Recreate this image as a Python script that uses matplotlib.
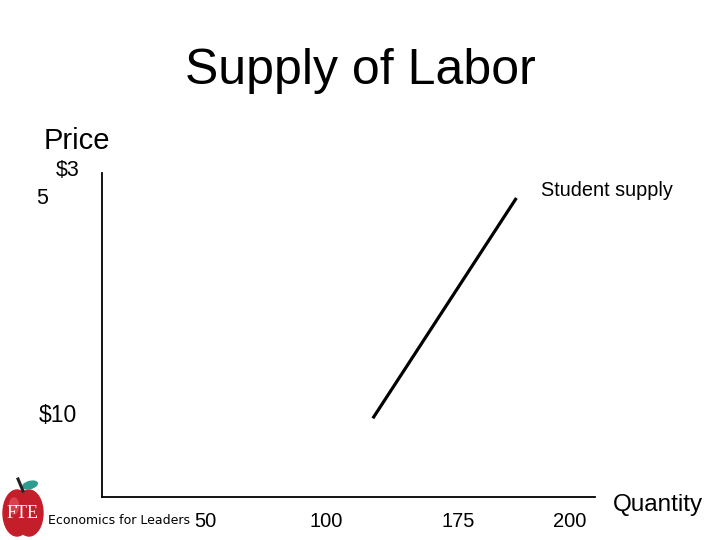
import matplotlib
matplotlib.use("Agg")
import matplotlib.pyplot as plt
from matplotlib.patches import Ellipse

plt.rcParams['font.family'] = ['Liberation Sans', 'DejaVu Sans']

# data
supply_qty = [119, 178]
supply_price = [9.4, 34.1]
tick_labels = ['50', '100', '175', '200']
tick_pos = [50, 100, 154, 200]
price_labels = ['$10']
price_ticks = [10]

W, H = 720, 540
fig = plt.figure(figsize=(7.2, 5.4), dpi=100)


def px(x, y):
    return x / W, 1 - y / H


# main axes: origin at (102, 497), top at 173, right end at 595
ax = fig.add_axes([102 / W, 1 - 497 / H, (595 - 102) / W, (497 - 173) / H])
ax.plot(supply_qty, supply_price, color='black', linewidth=2.3, solid_capstyle='butt')
ax.set_xlim(7.7, 210.3)
ax.set_ylim(0.58, 36.9)
for s in ['top', 'right']:
    ax.spines[s].set_visible(False)
ax.spines['left'].set_linewidth(1.3)
ax.spines['bottom'].set_linewidth(1.3)
ax.set_xticks(tick_pos)
ax.set_xticklabels(tick_labels, fontsize=14.5)
ax.set_yticks(price_ticks)
ax.set_yticklabels(price_labels, fontsize=16.5)
ax.tick_params(axis='x', length=0, pad=11)
ax.tick_params(axis='y', length=0, pad=18)

fig.text(*px(360, 71), 'Supply of Labor', fontsize=36, ha='center', va='center')
fig.text(*px(44, 141), 'Price', fontsize=21, ha='left', va='center')
fig.text(*px(80, 170), '$3', fontsize=15.5, ha='right', va='center')
fig.text(*px(36, 199), '5', fontsize=15.5, ha='left', va='center')
fig.text(*px(541, 190), 'Student supply', fontsize=14.3, ha='left', va='center')
fig.text(*px(613, 505), 'Quantity', fontsize=17.5, ha='left', va='center')
fig.text(*px(48, 521), 'Economics for Leaders', fontsize=9, ha='left', va='center',
         family=['DejaVu Sans'])

# FTE apple logo
lg = fig.add_axes([0, 1 - 540 / H, 48 / W, 66 / H])
lg.set_xlim(0, 48)
lg.set_ylim(0, 66)
lg.axis('off')
lg.add_patch(Ellipse((17, 27), 28, 46, color='#c41e2a'))
lg.add_patch(Ellipse((29, 27), 28, 46, color='#c41e2a'))
lg.add_patch(Ellipse((14, 34), 9, 16, color='#e0505a', alpha=0.7))
lg.plot([23, 18], [49, 61], color='#222222', linewidth=2.2)
lg.add_patch(Ellipse((30, 55), 15, 7, angle=15, color='#2e9c8e'))
lg.text(23, 26, 'FTE', color='white', fontsize=13, ha='center', va='center',
        family=['Liberation Serif', 'DejaVu Serif'])

fig.savefig('out.png', dpi=100)
